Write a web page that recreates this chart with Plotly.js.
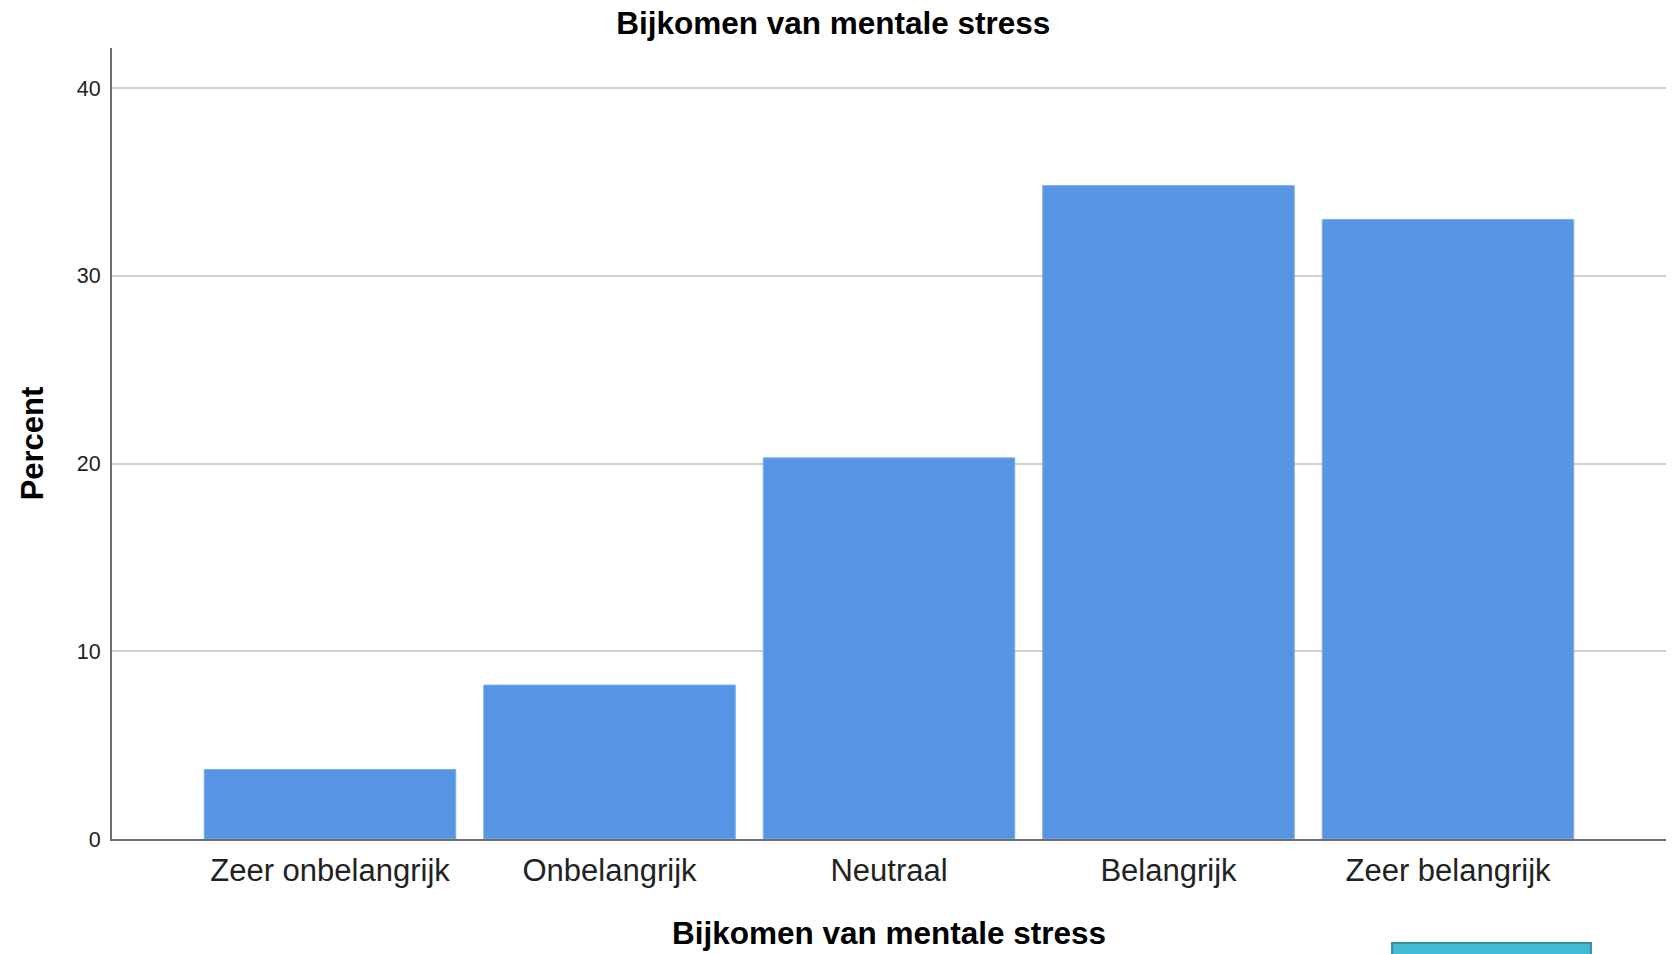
<!DOCTYPE html>
<html>
<head>
<meta charset="utf-8">
<script src="https://cdn.plot.ly/plotly-3.0.1.min.js"></script>
<style>html,body{margin:0;padding:0;background:#fff;}#chart{width:1678px;height:954px;}</style>
</head>
<body>
<div id="chart"></div>
<script>
const categories = ["Zeer onbelangrijk", "Onbelangrijk", "Neutraal", "Belangrijk", "Zeer belangrijk"];
const percentValues = [3.7, 8.2, 20.3, 34.8, 33.0];
const yTickValues = [0, 10, 20, 30, 40];
const chartTitle = "Bijkomen van mentale stress";
const xAxisTitle = "Bijkomen van mentale stress";
const yAxisTitle = "Percent";

const trace = {
  type: "bar",
  x: categories,
  y: percentValues,
  width: 0.9,
  marker: { color: "#5595E3", line: { color: "#7FB0EC", width: 1 } },
  hoverinfo: "x+y"
};

const layout = {
  width: 1678,
  height: 954,
  paper_bgcolor: "#ffffff",
  plot_bgcolor: "#ffffff",
  margin: { l: 112, r: 12, t: 48, b: 115, autoexpand: false },
  showlegend: false,
  font: { family: "Liberation Sans, Arial, sans-serif", color: "#222222" },
  title: {
    text: chartTitle,
    font: { family: "Liberation Sans, Arial, sans-serif", size: 31.5, color: "#000000", weight: "bold" },
    xref: "container", x: 0.4966, xanchor: "center",
    yref: "container", y: 0.976, yanchor: "middle"
  },
  xaxis: {
    type: "category",
    range: [-0.78, 4.78],
    showgrid: false,
    zeroline: false,
    showline: true,
    linecolor: "#6e6e6e",
    linewidth: 2,
    ticks: "",
    ticklabelstandoff: 3,
    tickfont: { size: 31, color: "#222222" },
    automargin: false,
    fixedrange: true,
    title: {
      text: xAxisTitle,
      font: { size: 31.5, color: "#000000", weight: "bold" },
      standoff: 35
    }
  },
  yaxis: {
    range: [0, 42.13],
    tickvals: yTickValues,
    ticktext: yTickValues.map(String),
    showgrid: true,
    gridcolor: "#cfcfcf",
    gridwidth: 2,
    zeroline: false,
    showline: true,
    linecolor: "#6e6e6e",
    linewidth: 2,
    ticks: "",
    ticklabelstandoff: 5,
    tickfont: { size: 21.5, color: "#222222" },
    automargin: false,
    fixedrange: true,
    title: {
      text: yAxisTitle,
      font: { size: 31, color: "#000000", weight: "bold" },
      standoff: 24
    }
  },
  shapes: [
    {
      type: "rect", xref: "paper", yref: "paper",
      x0: 0.8237, x1: 0.9517, y0: -0.1315, y1: -0.16,
      fillcolor: "#42BAD3",
      line: { color: "#3A8FA0", width: 2 },
      layer: "above"
    }
  ]
};

Plotly.newPlot("chart", [trace], layout, { displayModeBar: false, staticPlot: true });
</script>
</body>
</html>
